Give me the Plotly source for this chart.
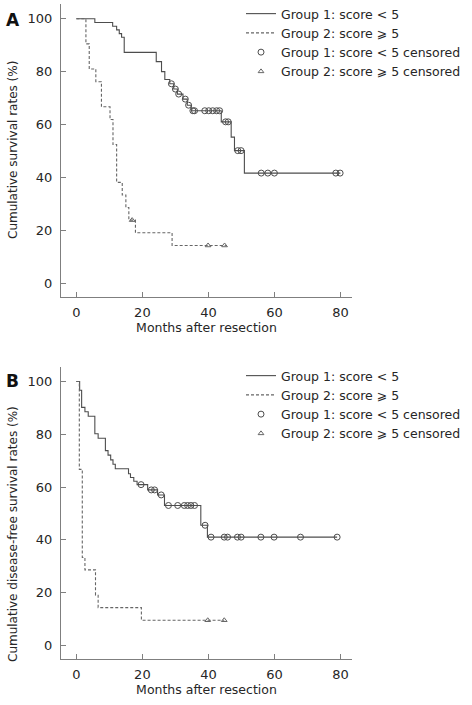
import plotly.graph_objects as go
import numpy as np

# ---------------- Data ----------------
# Panel A: overall survival
a_g1_time = [0, 5.6, 11.0, 12.2, 13.0, 13.7, 14.5, 24.2, 25.8, 26.8, 28.3, 29.5, 30.6, 32.3, 33.6, 34.8, 43.9, 46.9, 47.9, 50.9, 80.0]
a_g1_surv = [100, 98.6, 97.2, 95.8, 94.4, 93.0, 87.3, 83.8, 80.0, 77.0, 75.4, 73.4, 71.5, 69.6, 67.3, 65.2, 61.0, 55.2, 50.1, 41.6, 41.6]
a_g1_cens = [28.8, 30.0, 31.0, 33.0, 34.0, 35.3, 35.8, 38.9, 40.1, 41.3, 42.5, 43.4, 45.2, 46.0, 48.9, 49.9, 56.0, 58.0, 60.0, 78.6, 79.9]

a_g2_time = [0, 2.9, 3.9, 5.9, 7.6, 10.2, 11.1, 12.2, 13.9, 15.0, 15.9, 17.9, 29.0, 45.3]
a_g2_surv = [100, 90.5, 81.0, 76.2, 66.7, 61.9, 52.4, 38.1, 33.3, 28.6, 23.8, 19.0, 14.2, 14.2]
a_g2_cens = [16.9, 39.9, 44.9]

# Panel B: disease-free survival
b_g1_time = [0, 1.0, 1.6, 2.6, 3.6, 5.6, 6.6, 8.8, 9.6, 10.4, 11.1, 11.8, 15.8, 16.4, 17.4, 18.4, 21.6, 24.6, 26.7, 37.7, 39.7, 79.0]
b_g1_surv = [100, 96.7, 90.2, 88.5, 86.8, 80.2, 78.5, 73.8, 72.1, 70.3, 68.6, 66.9, 65.0, 63.6, 62.2, 60.9, 58.9, 57.0, 53.0, 45.5, 41.0, 41.0]
b_g1_cens = [19.6, 22.7, 23.7, 25.7, 27.9, 30.7, 32.7, 33.7, 34.7, 35.8, 39.0, 40.8, 44.8, 45.8, 48.8, 49.9, 55.9, 59.9, 67.9, 79.0]

b_g2_time = [0, 0.9, 1.8, 2.6, 5.8, 6.6, 19.7, 44.8]
b_g2_surv = [100, 66.7, 33.3, 28.6, 19.0, 14.3, 9.5, 9.5]
b_g2_cens = [39.8, 44.8]

x_ticks = [0, 20, 40, 60, 80]
y_ticks = [0, 20, 40, 60, 80, 100]

names = ["Group 1: score < 5", "Group 2: score \u2a7e 5",
         "Group 1: score < 5 censored", "Group 2: score \u2a7e 5 censored"]
panel_labels = ["A", "B"]
y_titles = ["Cumulative survival rates (%)", "Cumulative disease-free survival rates (%)"]
x_title = "Months after resection"


def step_value(times, surv, t):
    idx = np.searchsorted(np.array(times), t, side="right") - 1
    return surv[max(idx, 0)]


FONT = "Verdana, DejaVu Sans, sans-serif"
LINE1 = "#4d4d4d"
LINE2 = "#666666"
AXC = "#7f7f7f"
TXT = "#262626"

fig = go.Figure()

panels = [
    (a_g1_time, a_g1_surv, a_g1_cens, a_g2_time, a_g2_surv, a_g2_cens, "x", "y", "legend"),
    (b_g1_time, b_g1_surv, b_g1_cens, b_g2_time, b_g2_surv, b_g2_cens, "x2", "y2", "legend2"),
]

for (t1, s1, c1, t2, s2, c2, xa, ya, lg) in panels:
    fig.add_trace(go.Scatter(x=t1, y=s1, mode="lines", line=dict(shape="hv", color=LINE1, width=1.1),
                             name=names[0], xaxis=xa, yaxis=ya, legend=lg))
    fig.add_trace(go.Scatter(x=t2, y=s2, mode="lines", line=dict(shape="hv", color=LINE2, width=1.1, dash="3px,2px"),
                             name=names[1], xaxis=xa, yaxis=ya, legend=lg))
    fig.add_trace(go.Scatter(x=c1, y=[step_value(t1, s1, t) for t in c1], mode="markers",
                             marker=dict(symbol="circle-open", size=6, color=LINE1, line=dict(width=1)),
                             name=names[2], xaxis=xa, yaxis=ya, legend=lg))
    fig.add_trace(go.Scatter(x=c2, y=[step_value(t2, s2, t) for t in c2], mode="markers",
                             marker=dict(symbol="triangle-up-open", size=5, color=LINE2, line=dict(width=1)),
                             name=names[3], xaxis=xa, yaxis=ya, legend=lg))

W, H = 472, 705
def px2x(p):
    return p / W
def px2y(p):
    return 1 - p / H

xdom = [px2x(61), px2x(352)]
ydomA = [px2y(297), px2y(4)]
ydomB = [px2y(659.3), px2y(366.7)]

axis_common = dict(showline=True, linecolor=AXC, linewidth=1, ticks="inside", ticklen=5,
                   tickcolor=AXC, tickwidth=1, showgrid=False, zeroline=False, automargin=False,
                   tickfont=dict(family=FONT, size=13, color=TXT))

xr = [-4.65, 83.5]
yr = [-5.3, 105.6]

xax = dict(range=xr, tickvals=x_ticks, ticklabelstandoff=3,
           title=dict(text=x_title, standoff=3, font=dict(size=12.5)), **axis_common)
yax = dict(range=yr, tickvals=y_ticks, ticklabelstandoff=5, **axis_common)

fig.update_layout(
    width=W, height=H, margin=dict(l=0, r=0, t=0, b=0, autoexpand=False),
    paper_bgcolor="white", plot_bgcolor="white",
    font=dict(family=FONT, size=13, color=TXT),
    xaxis=dict(domain=xdom, anchor="y", **xax),
    yaxis=dict(domain=ydomA, anchor="x", **yax),
    xaxis2=dict(domain=xdom, anchor="y2", **xax),
    yaxis2=dict(domain=ydomB, anchor="x2", **yax),
    legend=dict(x=px2x(241), y=px2y(-1), xanchor="left", yanchor="top", bgcolor="rgba(0,0,0,0)",
                font=dict(family=FONT, size=12.5, color=TXT), itemwidth=30, tracegroupgap=0),
    legend2=dict(x=px2x(241), y=px2y(361), xanchor="left", yanchor="top", bgcolor="rgba(0,0,0,0)",
                 font=dict(family=FONT, size=12.5, color=TXT), itemwidth=30, tracegroupgap=0),
    showlegend=True,
)

for lab, ypix in zip(panel_labels, [20, 381]):
    fig.add_annotation(text="<b>%s</b>" % lab, x=px2x(4), y=px2y(ypix), xref="paper", yref="paper",
                       xanchor="left", yanchor="middle", showarrow=False,
                       font=dict(family=FONT, size=17, color="#111111"))

for title, ycen in zip(y_titles, [150, 534]):
    fig.add_annotation(text=title, x=px2x(13), y=px2y(ycen), xref="paper", yref="paper",
                       xanchor="center", yanchor="middle", textangle=-90, showarrow=False,
                       font=dict(family=FONT, size=12, color=TXT))

fig.write_html("out.html", config={"displayModeBar": False},
               post_script="document.body.style.margin='0';")
